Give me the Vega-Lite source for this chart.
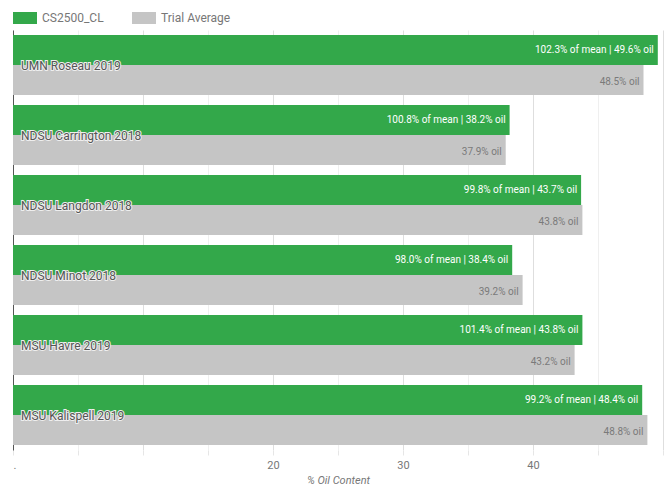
{
  "$schema": "https://vega.github.io/schema/vega-lite/v6.json",
  "width": 650,
  "height": 420,
  "padding": {"left": 12, "top": 6, "right": 2, "bottom": 2},
  "config": {
    "font": "Roboto",
    "view": {"stroke": null}
  },
  "data": {
    "values": [
      {"location": "UMN Roseau 2019", "series": "CS2500_CL", "value": 49.6, "label": "102.3% of mean | 49.6% oil"},
      {"location": "UMN Roseau 2019", "series": "Trial Average", "value": 48.5, "label": "48.5% oil"},
      {"location": "NDSU Carrington 2018", "series": "CS2500_CL", "value": 38.2, "label": "100.8% of mean | 38.2% oil"},
      {"location": "NDSU Carrington 2018", "series": "Trial Average", "value": 37.9, "label": "37.9% oil"},
      {"location": "NDSU Langdon 2018", "series": "CS2500_CL", "value": 43.7, "label": "99.8% of mean | 43.7% oil"},
      {"location": "NDSU Langdon 2018", "series": "Trial Average", "value": 43.8, "label": "43.8% oil"},
      {"location": "NDSU Minot 2018", "series": "CS2500_CL", "value": 38.4, "label": "98.0% of mean | 38.4% oil"},
      {"location": "NDSU Minot 2018", "series": "Trial Average", "value": 39.2, "label": "39.2% oil"},
      {"location": "MSU Havre 2019", "series": "CS2500_CL", "value": 43.8, "label": "101.4% of mean | 43.8% oil"},
      {"location": "MSU Havre 2019", "series": "Trial Average", "value": 43.2, "label": "43.2% oil"},
      {"location": "MSU Kalispell 2019", "series": "CS2500_CL", "value": 48.4, "label": "99.2% of mean | 48.4% oil"},
      {"location": "MSU Kalispell 2019", "series": "Trial Average", "value": 48.8, "label": "48.8% oil"}
    ]
  },
  "encoding": {
    "y": {
      "field": "location",
      "type": "nominal",
      "sort": null,
      "scale": {"paddingInner": 0.142857, "paddingOuter": 0.0714285},
      "axis": {
        "title": null,
        "labels": false,
        "ticks": false,
        "domain": true,
        "domainColor": "#555555",
        "domainWidth": 1,
        "grid": false
      }
    }
  },
  "layer": [
    {
      "mark": {"type": "bar"},
      "encoding": {
        "x": {
          "field": "value",
          "type": "quantitative",
          "scale": {"domain": [0, 50], "nice": false},
          "axis": {
            "title": "% Oil Content",
            "titleFontStyle": "italic",
            "titleFontWeight": "normal",
            "titleColor": "#777777",
            "titleFontSize": 11,
            "titlePadding": 4,
            "values": [0, 5, 10, 15, 20, 25, 30, 35, 40, 45, 50],
            "labelExpr": "(datum.value == 20 || datum.value == 30 || datum.value == 40) ? datum.label : (datum.value == 0 ? '.' : '')",
            "labelColor": "#777777",
            "labelFontSize": 11,
            "labelPadding": 4,
            "domain": false,
            "ticks": true,
            "tickSize": 5,
            "tickColor": "#e6e6e6",
            "grid": true,
            "gridColor": {"condition": {"test": "datum.value % 10 === 0", "value": "#dedede"}, "value": "#efefef"}
          }
        },
        "yOffset": {"field": "series", "type": "nominal", "scale": {"paddingInner": 0, "paddingOuter": 0}},
        "color": {
          "field": "series",
          "type": "nominal",
          "scale": {"domain": ["CS2500_CL", "Trial Average"], "range": ["#33a84a", "#c5c5c5"]},
          "legend": {
            "title": null,
            "orient": "none",
            "legendX": 0,
            "legendY": -24,
            "direction": "horizontal",
            "symbolType": "M-1,-0.5H1V0.5H-1Z",
            "symbolSize": 576,
            "symbolStrokeWidth": 0,
            "symbolOpacity": 1,
            "labelFontSize": 12,
            "labelColor": "#777777",
            "labelOffset": 5,
            "columnPadding": 28
          }
        }
      }
    },
    {
      "transform": [{"filter": "datum.series == 'CS2500_CL'"}],
      "mark": {"type": "text", "align": "right", "baseline": "middle", "dx": -4, "fontSize": 10, "color": "white"},
      "encoding": {
        "x": {"field": "value", "type": "quantitative"},
        "yOffset": {"field": "series", "type": "nominal"},
        "text": {"field": "label"}
      }
    },
    {
      "transform": [{"filter": "datum.series == 'Trial Average'"}],
      "mark": {"type": "text", "align": "right", "baseline": "middle", "dx": -4, "dy": 2, "fontSize": 10, "color": "#7a7a7a"},
      "encoding": {
        "x": {"field": "value", "type": "quantitative"},
        "yOffset": {"field": "series", "type": "nominal"},
        "text": {"field": "label"}
      }
    },
    {
      "transform": [{"filter": "datum.series == 'CS2500_CL'"}],
      "mark": {"type": "text", "align": "left", "baseline": "middle", "dx": 8, "dy": 1, "fontSize": 12, "color": "#e8e8e8", "stroke": "#eeeeee", "strokeWidth": 2},
      "encoding": {
        "x": {"datum": 0, "type": "quantitative"},
        "text": {"field": "location"}
      }
    },
    {
      "transform": [{"filter": "datum.series == 'CS2500_CL'"}],
      "mark": {"type": "text", "align": "left", "baseline": "middle", "dx": 8, "dy": 1, "fontSize": 12, "color": "#555555"},
      "encoding": {
        "x": {"datum": 0, "type": "quantitative"},
        "text": {"field": "location"}
      }
    }
  ]
}
